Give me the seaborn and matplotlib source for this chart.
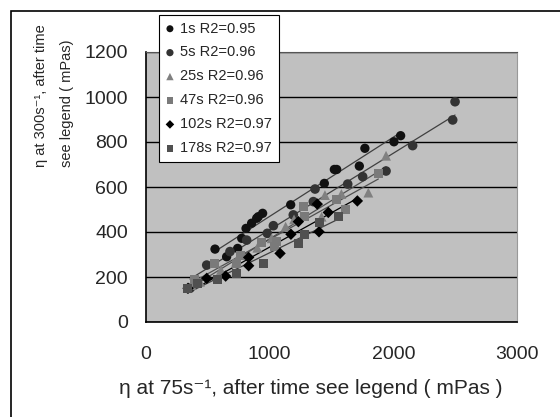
import numpy as np
import pandas as pd
import matplotlib
matplotlib.use('Agg')
import matplotlib.pyplot as plt
from matplotlib.patches import Rectangle
from matplotlib.ticker import MultipleLocator
import seaborn as sns

# values: viscosity at 75 1/s (x) vs at 300 1/s (y), mPas
x_1s = [558, 652, 741, 774, 809, 854, 895, 908, 943, 1170, 1442, 1523, 1542, 1725, 1770, 2005, 2059]
y_1s = [324, 290, 327, 372, 416, 439, 461, 468, 483, 521, 616, 678, 678, 693, 772, 801, 828]

x_5s = [356, 491, 679, 814, 981, 1030, 1191, 1353, 1367, 1631, 1752, 1941, 2156, 2480, 2499]
y_5s = [150, 253, 313, 364, 394, 428, 476, 535, 591, 613, 646, 671, 784, 898, 979]

x_25s = [369, 437, 606, 728, 900, 1016, 1129, 1197, 1420, 1447, 1580, 1798, 1941]
y_25s = [164, 179, 231, 268, 330, 372, 424, 456, 468, 564, 569, 575, 739]

x_47s = [396, 550, 733, 765, 935, 1043, 1056, 1272, 1285, 1537, 1615, 1879]
y_47s = [187, 261, 261, 296, 353, 335, 357, 513, 468, 545, 498, 659]

x_102s = [340, 491, 644, 830, 830, 1084, 1172, 1232, 1385, 1399, 1474, 1709]
y_102s = [150, 194, 204, 287, 250, 305, 390, 446, 524, 401, 487, 538]

x_178s = [334, 420, 580, 728, 949, 1232, 1278, 1407, 1555]
y_178s = [148, 170, 187, 216, 261, 347, 391, 443, 468]

labels = ['1s R2=0.95', '5s R2=0.96', '25s R2=0.96', '47s R2=0.96', '102s R2=0.97', '178s R2=0.97']
xs = [x_1s, x_5s, x_25s, x_47s, x_102s, x_178s]
ys = [y_1s, y_5s, y_25s, y_47s, y_102s, y_178s]
markers = ['o', 'o', '^', 's', 'D', 's']
colors = ['#111111', '#333333', '#808080', '#7a7a7a', '#000000', '#505050']
sizes = [45, 48, 50, 42, 34, 42]
line_colors = ['#404040', '#404040', '#505050', '#505050', '#000000', '#404040']

sns.set_style('white')
plt.rcParams['font.family'] = ['Liberation Sans', 'DejaVu Sans']

fig = plt.figure(figsize=(5.6, 4.17), dpi=100)
ax = fig.add_axes([146/560, 1-322/417, (517-146)/560, (322-52)/417])
ax.set_facecolor('#c0c0c0')

# scatter + linear trend line per series
for lab, xv, yv, m, c, s, lc in zip(labels, xs, ys, markers, colors, sizes, line_colors):
    df = pd.DataFrame({'x': xv, 'y': yv})
    sns.regplot(data=df, x='x', y='y', ax=ax, scatter=False, ci=None, truncate=True,
                line_kws={'color': lc, 'lw': 0.9, 'zorder': 3})
    sns.scatterplot(data=df, x='x', y='y', ax=ax, marker=m, color=c, s=s,
                    edgecolor='none', label=lab, zorder=4)

ax.set_xlim(0, 3000)
ax.set_ylim(0, 1200)
ax.xaxis.set_major_locator(MultipleLocator(1000))
ax.xaxis.set_minor_locator(MultipleLocator(200))
ax.yaxis.set_major_locator(MultipleLocator(200))
ax.yaxis.set_minor_locator(MultipleLocator(40))
ax.grid(True, axis='y', which='major', color='black', lw=1)
ax.set_axisbelow(True)
ax.tick_params(axis='both', which='both', direction='in', length=4, width=1, color='black')
ax.tick_params(axis='x', which='major', labelsize=14, pad=17)
ax.tick_params(axis='y', which='major', labelsize=14, pad=13)
ax.set_xlabel('')
ax.set_ylabel('')
for side in ['left', 'bottom']:
    ax.spines[side].set_color('black')
    ax.spines[side].set_linewidth(1.2)
ax.spines['top'].set_color('#555555')
ax.spines['right'].set_color('#999999')

leg = ax.legend(loc='upper left', bbox_to_anchor=(159/560, 1-15/417), bbox_transform=fig.transFigure,
                borderaxespad=0, frameon=True, fancybox=False, fontsize=10.5, labelspacing=0.68,
                handlelength=0.6, handletextpad=0.4, borderpad=0.45, markerscale=0.75)
leg.get_frame().set_edgecolor('black')
leg.get_frame().set_linewidth(0.8)
leg.get_frame().set_facecolor('white')
leg.get_frame().set_alpha(1)
leg.set_zorder(10)

fig.text(311/560, 1-389/417, 'η at 75s⁻¹, after time see legend ( mPas )',
         fontsize=15, ha='center', va='center')
fig.text(54/560, 1-167/417, 'η at 300s⁻¹, after time\nsee legend ( mPas)',
         fontsize=10.5, rotation=90, ha='center', va='bottom', multialignment='left', linespacing=2.1)

# outer chart border
fig.add_artist(Rectangle((11/560, -0.01), 0.99, 1-11/417 + 0.01, transform=fig.transFigure,
                         fill=False, edgecolor='black', lw=1.2))

fig.savefig('out.png', dpi=100)
